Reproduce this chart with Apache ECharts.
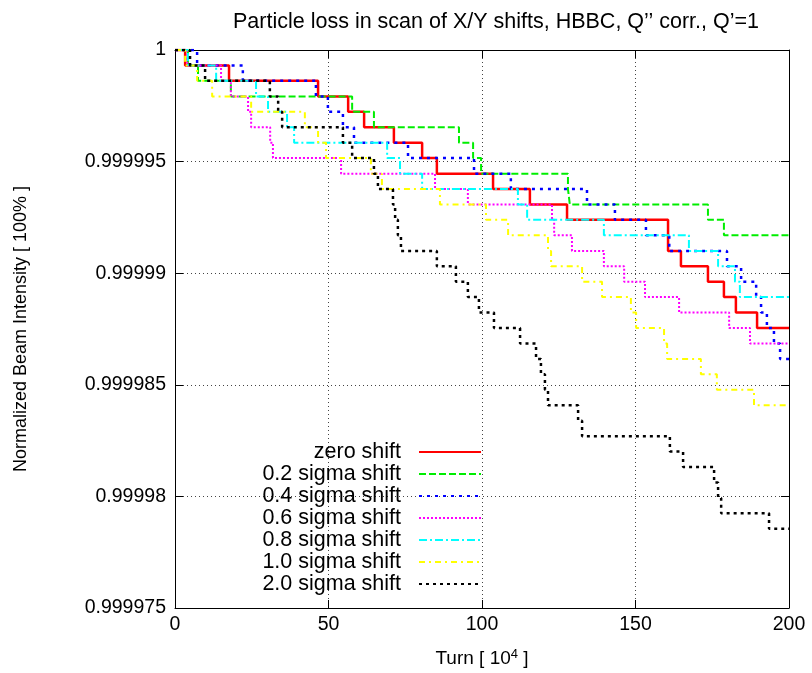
<!DOCTYPE html>
<html>
<head>
<meta charset="utf-8">
<script src="https://cdn.jsdelivr.net/npm/echarts@6/dist/echarts.min.js"></script>
<style>
  html, body { margin: 0; padding: 0; background: #fff; }
  #chart { width: 812px; height: 673px; }
</style>
</head>
<body>
<div id="chart"></div>
<script>
// step curves: [turn (10^4), normalized intensity after the step]
const zeroShift = [[0, 1], [3.3, 0.99999931], [17.6, 0.99999862], [46.6, 0.99999792], [56.4, 0.99999723], [61.6, 0.99999654], [71.3, 0.99999585], [80.5, 0.99999516], [85.3, 0.99999446], [103.6, 0.99999377], [115.6, 0.99999308], [127.7, 0.99999239], [160.6, 0.999991], [164.8, 0.99999031], [173.6, 0.99998962], [178.8, 0.99998893], [182.7, 0.99998824], [189.6, 0.99998754], [200, 0.99998754]];
const shift02 = [[0, 1], [4.2, 0.99999931], [7.5, 0.99999862], [18.2, 0.99999792], [57.7, 0.99999723], [64.8, 0.99999654], [92.5, 0.99999585], [97.1, 0.99999516], [99.7, 0.99999446], [128.0, 0.99999377], [128.6, 0.99999308], [173.6, 0.99999239], [178.8, 0.9999917], [200, 0.9999917]];
const shift04 = [[0, 1], [7.2, 0.99999931], [22.1, 0.99999862], [45.9, 0.99999792], [49.8, 0.99999723], [54.7, 0.99999654], [58.3, 0.99999585], [75.9, 0.99999516], [97.4, 0.99999446], [109.4, 0.99999377], [134.2, 0.99999308], [143.3, 0.99999239], [153.4, 0.9999917], [161, 0.999991], [179.8, 0.99999031], [184.4, 0.99998962], [189.3, 0.99998893], [190.9, 0.99998824], [192.8, 0.99998754], [195.1, 0.99998685], [197.1, 0.99998616], [200, 0.99998616]];
const shift06 = [[0, 1], [4, 0.99999931], [15, 0.99999862], [18.2, 0.99999792], [23.8, 0.99999723], [24.8, 0.99999654], [31, 0.99999585], [31.9, 0.99999516], [54.1, 0.99999446], [84.7, 0.99999377], [95.4, 0.99999308], [122.8, 0.99999239], [123.5, 0.9999917], [129.3, 0.999991], [139.7, 0.99999031], [146.3, 0.99998962], [153.1, 0.99998893], [164.2, 0.99998824], [180.5, 0.99998754], [187.3, 0.99998685], [200, 0.99998685]];
const shift08 = [[0, 1], [4.2, 0.99999931], [13.4, 0.99999862], [26.4, 0.99999792], [30.3, 0.99999723], [36.5, 0.99999654], [38.8, 0.99999585], [69.1, 0.99999516], [73.3, 0.99999446], [80.5, 0.99999377], [111.7, 0.99999308], [114.7, 0.99999239], [139.7, 0.9999917], [167.4, 0.999991], [176.9, 0.99999031], [182.4, 0.99998962], [184, 0.99998893], [200, 0.99998893]];
const shift10 = [[0, 1], [3.3, 0.99999931], [7.2, 0.99999862], [12.1, 0.99999792], [24.8, 0.99999723], [42.3, 0.99999654], [46.6, 0.99999585], [49.2, 0.99999516], [63.8, 0.99999446], [67.4, 0.99999377], [86.3, 0.99999308], [101.3, 0.99999239], [108.5, 0.9999917], [121.5, 0.999991], [122.5, 0.99999031], [132.6, 0.99998962], [139.1, 0.99998893], [148.5, 0.99998824], [150.2, 0.99998754], [159.3, 0.99998685], [160.3, 0.99998616], [171.3, 0.99998547], [176.5, 0.99998478], [188.6, 0.99998408], [200, 0.99998408]];
const shift20 = [[0, 1], [4.9, 0.99999931], [9.8, 0.99999862], [30.9, 0.99999792], [33.6, 0.99999723], [34.9, 0.99999654], [54.7, 0.99999585], [57.7, 0.99999516], [64.8, 0.99999446], [66.1, 0.99999377], [71, 0.99999308], [71.7, 0.99999239], [72.6, 0.9999917], [73.6, 0.999991], [85.3, 0.99999031], [91.5, 0.99998962], [95.4, 0.99998893], [99, 0.99998824], [103.9, 0.99998754], [112.4, 0.99998685], [117.6, 0.99998616], [119.2, 0.99998547], [120.5, 0.99998478], [121.5, 0.99998408], [131.3, 0.99998339], [132.6, 0.9999827], [161.2, 0.99998201], [165.5, 0.99998132], [175.6, 0.99998062], [176.9, 0.99997993], [177.9, 0.99997924], [193.5, 0.99997855], [200, 0.99997855]];

const seriesNames = ['zero shift', '0.2 sigma shift', '0.4 sigma shift', '0.6 sigma shift', '0.8 sigma shift', '1.0 sigma shift', '2.0 sigma shift'];
const seriesData = [zeroShift, shift02, shift04, shift06, shift08, shift10, shift20];
const colors = ['#ff0000', '#00ee00', '#0000ff', '#ff00ff', '#00ffff', '#ffff00', '#000000'];
const dashes = ['solid', [7, 3], [3, 5], [2, 2], [8, 3, 2, 3], [6, 4, 2, 4], [3, 4]];
const widths = [2.5, 2, 2.5, 2, 2, 2, 2.5];

const FONT = '"Liberation Sans", Arial, sans-serif';

const chart = echarts.init(document.getElementById('chart'), null, { renderer: 'canvas' });

const gridLine = { show: true, lineStyle: { color: '#444', type: [1, 3], width: 1 } };
const tickIn = { show: true, inside: true, length: 8, lineStyle: { color: '#000', width: 1 } };
const border = { show: true, onZero: false, lineStyle: { color: '#000', width: 1 } };

const option = {
  backgroundColor: '#fff',
  animation: false,
  title: {
    text: 'Particle loss in scan of X/Y shifts, HBBC, Q’’ corr., Q’=1',
    left: 491,
    top: 6,
    textAlign: 'center',
    textStyle: { fontFamily: FONT, fontSize: 21.5, fontWeight: 'normal', color: '#000' },
  },
  grid: { left: 175, right: 23, top: 50, bottom: 62 },
  legend: {
    orient: 'vertical',
    right: 330,
    top: 441,
    align: 'right',
    padding: 0,
    itemWidth: 62,
    itemHeight: 14,
    itemGap: 0,
    data: seriesNames,
    itemStyle: { opacity: 0 },
    textStyle: { fontFamily: FONT, fontSize: 21.5, color: '#000', lineHeight: 21.5, padding: [0, 13, 0, 0] },
  },
  xAxis: [
    {
      type: 'value',
      min: 0,
      max: 200,
      interval: 50,
      axisLine: border,
      axisTick: tickIn,
      splitLine: gridLine,
      axisLabel: { color: '#000', fontFamily: FONT, fontSize: 19.5, margin: 7 },
      name: 'Turn [ 10{sup|4} ]',
      nameLocation: 'middle',
      nameGap: 40,
      nameTextStyle: {
        fontFamily: FONT, fontSize: 19, color: '#000',
        rich: { sup: { fontFamily: FONT, fontSize: 13, color: '#000', verticalAlign: 'top', padding: [0, 0, 8, 0] } },
      },
    },
    {
      type: 'value',
      position: 'top',
      min: 0,
      max: 200,
      interval: 50,
      axisLine: border,
      axisTick: tickIn,
      axisLabel: { show: false },
      splitLine: { show: false },
    },
  ],
  yAxis: [
    {
      type: 'value',
      min: 0.999975,
      max: 1,
      interval: 0.000005,
      axisLine: border,
      axisTick: tickIn,
      splitLine: gridLine,
      axisLabel: {
        color: '#000', fontFamily: FONT, fontSize: 19.5, margin: 9,
        formatter: (v) => String(+v.toFixed(6)),
      },
      name: 'Normalized Beam Intensity [ 100% ]',
      nameLocation: 'middle',
      nameGap: 145,
      nameTextStyle: { fontFamily: FONT, fontSize: 18, color: '#000' },
    },
    {
      type: 'value',
      position: 'right',
      min: 0.999975,
      max: 1,
      interval: 0.000005,
      axisLine: border,
      axisTick: tickIn,
      axisLabel: { show: false },
      splitLine: { show: false },
    },
  ],
  series: seriesNames.map((name, i) => ({
    name,
    type: 'line',
    step: 'end',
    data: seriesData[i],
    showSymbol: false,
    symbol: 'none',
    lineStyle: { color: colors[i], width: widths[i], type: dashes[i] },
    itemStyle: { color: colors[i] },
    emphasis: { disabled: true },
  })),
};

chart.setOption(option);
</script>
</body>
</html>
